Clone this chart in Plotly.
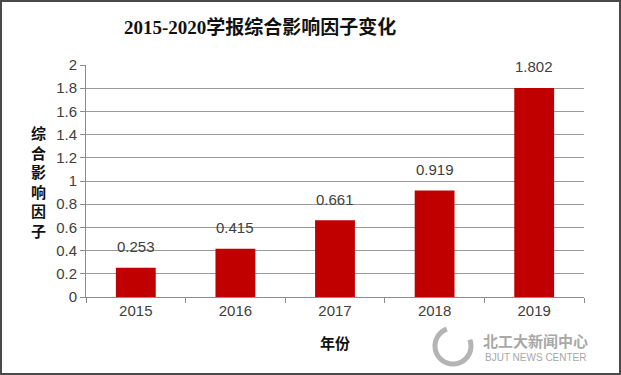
import plotly.graph_objects as go
import math

years = ["2015", "2016", "2017", "2018", "2019"]
impact = [0.253, 0.415, 0.661, 0.919, 1.802]
labels = ["0.253", "0.415", "0.661", "0.919", "1.802"]
ytick_vals = [0, 0.2, 0.4, 0.6, 0.8, 1, 1.2, 1.4, 1.6, 1.8, 2]
ytick_text = ["0", "0.2", "0.4", "0.6", "0.8", "1", "1.2", "1.4", "1.6", "1.8", "2"]

W, H = 621, 375
L, R, T, B = 86, 37, 65, 78
pw, ph = W - L - R, H - T - B

def px(x):
    return (x - L) / pw

def py(y):
    return (H - B - y) / ph

fig = go.Figure()
fig.add_trace(go.Bar(
    x=years, y=impact,
    marker=dict(color="#C00000", line=dict(width=0)),
    hoverinfo="skip",
))

cjk = "Noto Sans CJK SC, sans-serif"
sans = "Liberation Sans, Arial, sans-serif"
fig.update_layout(
    width=W, height=H,
    margin=dict(l=L, r=R, t=T, b=B),
    paper_bgcolor="white", plot_bgcolor="white",
    bargap=0.6, showlegend=False,
    xaxis=dict(
        type="category", showline=True, linecolor="#8C8C8C", linewidth=1,
        ticks="outside", tickson="boundaries", ticklen=5, tickcolor="#8C8C8C",
        tickfont=dict(family=sans, size=15, color="#404040"),
        showgrid=False,
    ),
    yaxis=dict(
        range=[0, 2], tickvals=ytick_vals, ticktext=ytick_text,
        showline=True, linecolor="#8C8C8C", linewidth=1,
        ticks="outside", ticklen=5, tickcolor="#8C8C8C",
        tickfont=dict(family=sans, size=15, color="#404040"),
        showgrid=True, gridcolor="#9A9A9A", gridwidth=1, zeroline=False,
    ),
    font=dict(family=cjk),
)

annotations = []
for i, (v, lab) in enumerate(zip(impact, labels)):
    annotations.append(dict(text=lab, x=i, y=v, xref="x", yref="y", yshift=21,
                            showarrow=False, xanchor="center", yanchor="middle",
                            font=dict(family=sans, size=15, color="#404040")))

paper_ann = [
    dict(text="<b>2015-2020学报综合影响因子变化</b>", x=px(260), y=py(27),
         font=dict(family="Liberation Serif, Noto Sans CJK SC, serif", size=19, color="#111111")),
    dict(text="<b>综<br>合<br>影<br>响<br>因<br>子</b>", x=px(38), y=py(181),
         font=dict(family=cjk, size=15, color="#111111")),
    dict(text="<b>年份</b>", x=px(335), y=py(342),
         font=dict(family=cjk, size=15, color="#111111")),
    dict(text="<b>北工大新闻中心</b>", x=px(535), y=py(340),
         font=dict(family=cjk, size=15, color="#A8A8A8")),
    dict(text="BJUT NEWS CENTER", x=px(536), y=py(357),
         font=dict(family=sans, size=10, color="#A8A8A8")),
]
for a in paper_ann:
    a.update(xref="paper", yref="paper", showarrow=False, xanchor="center", yanchor="middle")
fig.update_layout(annotations=annotations + paper_ann)

# logo swoosh ring
cx, cy, r = 453, 346, 18
pts = []
for i in range(0, 46):
    ang = math.radians(-20 + i * 6)
    pts.append((cx + r * math.cos(ang), cy + r * math.sin(ang)))
path = "M " + " L ".join(f"{px(x):.5f},{py(y):.5f}" for x, y in pts)
fig.add_shape(type="path", path=path, xref="paper", yref="paper",
              line=dict(color="#B4B4B4", width=5))

# outer border
fig.add_shape(type="rect", xref="paper", yref="paper",
              x0=px(1), x1=px(W - 1), y0=py(H - 1), y1=py(1),
              line=dict(color="#4A4A4A", width=2), layer="above")

fig.write_html("out.html", config={"displayModeBar": False},
               post_script="document.body.style.margin='0';document.body.style.overflow='hidden';")
